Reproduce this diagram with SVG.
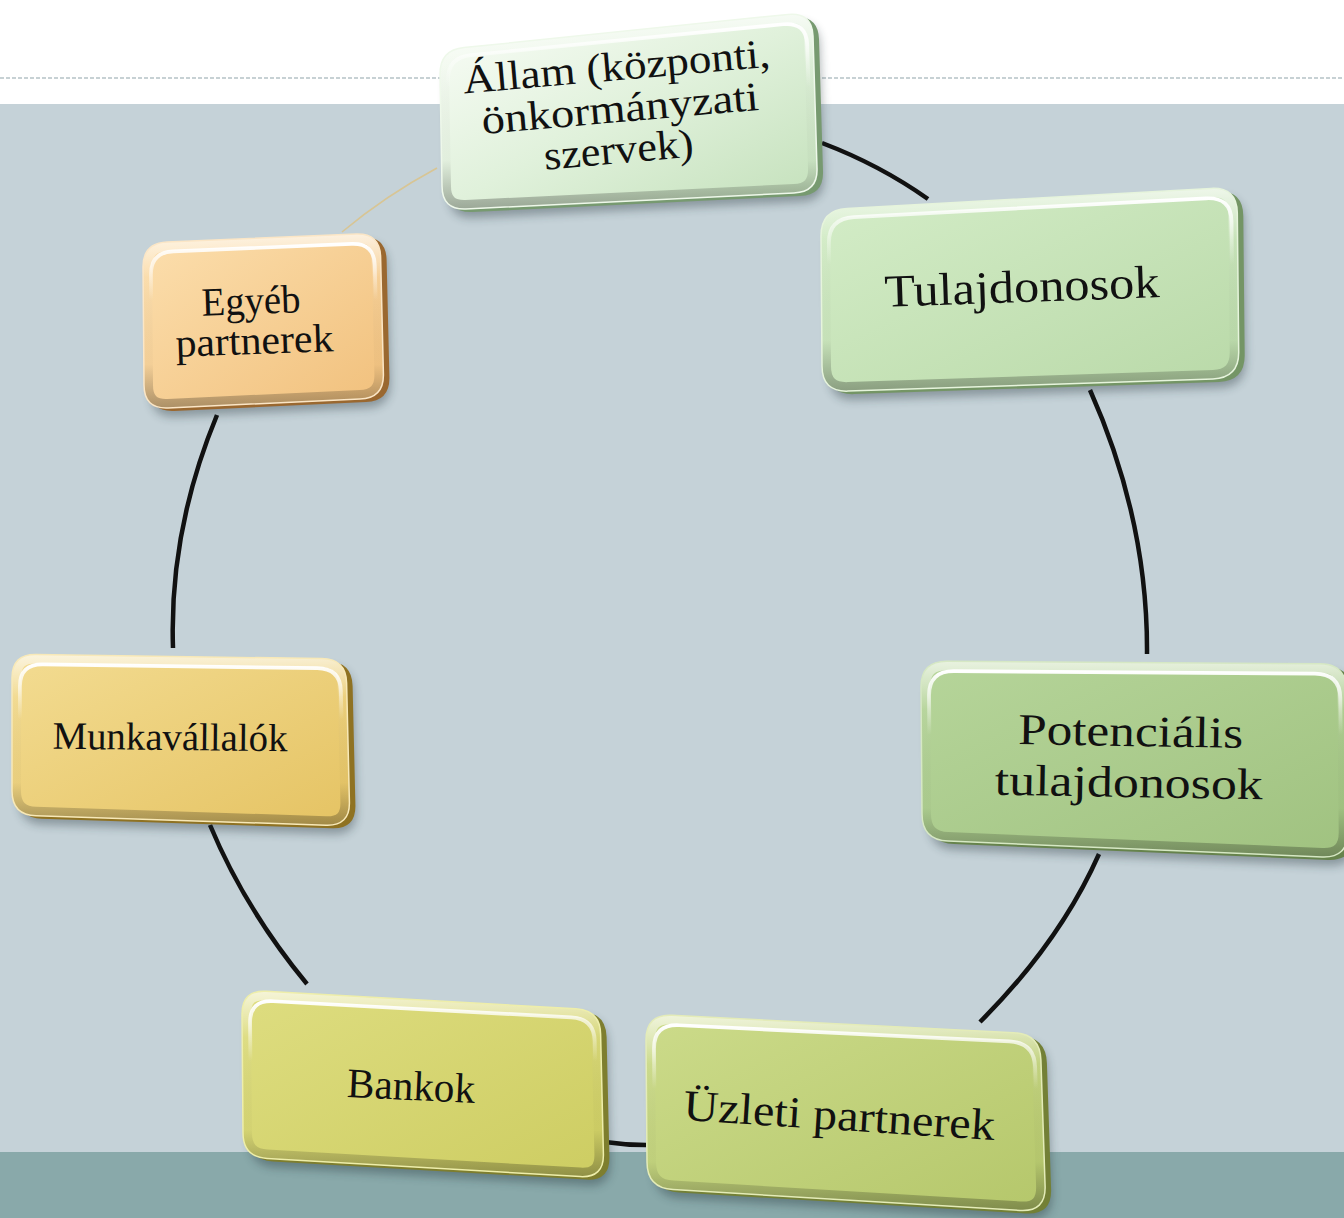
<svg xmlns="http://www.w3.org/2000/svg" xmlns:xlink="http://www.w3.org/1999/xlink" width="1344" height="1218" viewBox="0 0 1344 1218">
<style>
.lbl{font-family:"Liberation Serif","DejaVu Serif",serif;fill:#111;text-anchor:middle}
.conn{fill:none;stroke:#111;stroke-width:4.5}
.shadow{fill:#1a2a30;opacity:0.35;filter:url(#blur)}
.rim{fill:none;stroke-width:1.5}
.bev{fill:none;stroke:url(#bevel);stroke-width:18}
.gloss{fill:none;stroke:url(#gloss);stroke-width:4}
</style>
<defs>
<filter id="blur" x="-10%" y="-10%" width="120%" height="130%"><feGaussianBlur stdDeviation="5"/></filter>
<linearGradient id="bevel" x1="0" y1="0" x2="0" y2="1">
<stop offset="0" stop-color="#fff" stop-opacity="0.7"/>
<stop offset="0.1" stop-color="#fff" stop-opacity="0.45"/>
<stop offset="0.25" stop-color="#fff" stop-opacity="0.06"/>
<stop offset="0.75" stop-color="#000" stop-opacity="0.02"/>
<stop offset="1" stop-color="#000" stop-opacity="0.3"/>
</linearGradient>
<linearGradient id="gloss" x1="0" y1="0" x2="0" y2="1">
<stop offset="0" stop-color="#fff" stop-opacity="1"/>
<stop offset="0.15" stop-color="#fff" stop-opacity="0.6"/>
<stop offset="0.35" stop-color="#fff" stop-opacity="0"/>
<stop offset="1" stop-color="#fff" stop-opacity="0"/>
</linearGradient>
<linearGradient id="g1" x1="0" y1="0" x2="1" y2="1"><stop offset="0" stop-color="#fafdf8"/><stop offset="0.5" stop-color="#e0f1db"/><stop offset="1" stop-color="#c3e0ba"/></linearGradient>
<linearGradient id="g2" x1="0" y1="0" x2="1" y2="1"><stop offset="0" stop-color="#d4edc8"/><stop offset="1" stop-color="#b9d9a8"/></linearGradient>
<linearGradient id="g3" x1="0" y1="0" x2="1" y2="1"><stop offset="0" stop-color="#b6d59a"/><stop offset="1" stop-color="#a0c280"/></linearGradient>
<linearGradient id="g4" x1="0" y1="0" x2="1" y2="1"><stop offset="0" stop-color="#ccdb8a"/><stop offset="1" stop-color="#b5c76b"/></linearGradient>
<linearGradient id="g5" x1="0" y1="0" x2="1" y2="1"><stop offset="0" stop-color="#dedd80"/><stop offset="1" stop-color="#cdcd62"/></linearGradient>
<linearGradient id="g6" x1="0" y1="0" x2="1" y2="1"><stop offset="0" stop-color="#f3dc92"/><stop offset="1" stop-color="#e5c363"/></linearGradient>
<linearGradient id="g7" x1="0" y1="0" x2="1" y2="1"><stop offset="0" stop-color="#fcdfae"/><stop offset="1" stop-color="#f1c07c"/></linearGradient>
<path id="p1" d="M464,47.6 L788,14.4 Q812,12 813,36 L817,168 Q818,192 794,193 L466,209 Q442,210 442,186 L440,74 Q440,50 464,47.6 Z"/>
<path id="p2" d="M847,208.6 L1211,188.4 Q1237,187 1237.3,213 L1238.7,352 Q1239,378 1213,378.9 L848,391.1 Q822,392 822,366 L821,236 Q821,210 847,208.6 Z"/>
<path id="p3" d="M947,661.2 L1320,663.8 Q1346,664 1346.3,690 L1347.7,832 Q1348,858 1322,856.9 L948,841.1 Q922,840 922,814 L921,687 Q921,661 947,661.2 Z"/>
<path id="p4" d="M672,1015.3 L1014,1032.7 Q1040,1034 1040.9,1060 L1045.1,1186 Q1046,1212 1020,1210.4 L673,1189.6 Q647,1188 647,1162 L646,1040 Q646,1014 672,1015.3 Z"/>
<path id="p5" d="M266,991.3 L576,1008.7 Q600,1010 600.6,1034 L603.4,1154 Q604,1178 580,1176.6 L267,1158.4 Q243,1157 243,1133 L242,1014 Q242,990 266,991.3 Z"/>
<path id="p6" d="M36,654.4 L322,658.6 Q346,659 346.6,683 L349.4,802 Q350,826 326,825.2 L36,815.8 Q12,815 12,791 L12,678 Q12,654 36,654.4 Z"/>
<path id="p7" d="M167,242 L356,234 Q380,233 380.6,257 L383.4,374 Q384,398 360,399.1 L168,407.9 Q144,409 144,385 L143,267 Q143,243 167,242 Z"/>
<clipPath id="c1"><use xlink:href="#p1"/></clipPath>
<clipPath id="c2"><use xlink:href="#p2"/></clipPath>
<clipPath id="c3"><use xlink:href="#p3"/></clipPath>
<clipPath id="c4"><use xlink:href="#p4"/></clipPath>
<clipPath id="c5"><use xlink:href="#p5"/></clipPath>
<clipPath id="c6"><use xlink:href="#p6"/></clipPath>
<clipPath id="c7"><use xlink:href="#p7"/></clipPath>
</defs>

<g id="background">
<rect x="0" y="0" width="1344" height="1218" fill="#ffffff"/>
<rect x="0" y="104" width="1344" height="1048" fill="#c5d2d8"/>
<rect x="0" y="1152" width="1344" height="66" fill="#89a9aa"/>
<line x1="0" y1="78" x2="1344" y2="78" stroke="#8fa3aa" stroke-width="1.2" stroke-dasharray="4 2"/>
</g>

<g id="connectors">
<path class="conn" d="M822,143 Q880,165 928,199"/>
<path class="conn" d="M1090,390 Q1148,520 1147,654"/>
<path class="conn" d="M1099,854 Q1060,942 980,1022"/>
<path class="conn" d="M605,1142 Q625,1145 646,1145"/>
<path class="conn" d="M307,984 Q245,909 210,825"/>
<path class="conn" d="M173,648 Q169,531 217,415"/>
<path d="M342,232 Q385,196 437,168" fill="none" stroke="#d8c594" stroke-width="1.6"/>
</g>

<g id="node-egyeb">
<use xlink:href="#p7" class="shadow" transform="translate(7,9)"/>
<use xlink:href="#p7" transform="translate(6,3)" fill="#9a6830"/>
<use xlink:href="#p7" fill="url(#g7)"/>
<use xlink:href="#p7" class="bev" clip-path="url(#c7)"/>
<use xlink:href="#p7" class="gloss" transform="translate(1,3) scale(0.942 0.92)" transform-origin="263 321"/>
<use xlink:href="#p7" class="rim" stroke="#fbe6c6"/>
<g transform="rotate(-2 253 330)">
<text class="lbl" x="252" y="314" font-size="40" textLength="99" lengthAdjust="spacingAndGlyphs">Egyéb</text>
<text class="lbl" x="254" y="354" font-size="40" textLength="158" lengthAdjust="spacingAndGlyphs">partnerek</text>
</g>
</g>

<g id="node-munkavallalok">
<use xlink:href="#p6" class="shadow" transform="translate(7,9)"/>
<use xlink:href="#p6" transform="translate(6,3)" fill="#8f7222"/>
<use xlink:href="#p6" fill="url(#g6)"/>
<use xlink:href="#p6" class="bev" clip-path="url(#c6)"/>
<use xlink:href="#p6" class="gloss" transform="translate(1,3) scale(0.959 0.919)" transform-origin="181 740"/>
<use xlink:href="#p6" class="rim" stroke="#f8e9b8"/>
<text class="lbl" x="170" y="750" font-size="39" textLength="235" lengthAdjust="spacingAndGlyphs" transform="rotate(0.6 170 740)">Munkavállalók</text>
</g>

<g id="node-bankok">
<use xlink:href="#p5" class="shadow" transform="translate(7,9)"/>
<use xlink:href="#p5" transform="translate(6,3)" fill="#7e7e2e"/>
<use xlink:href="#p5" fill="url(#g5)"/>
<use xlink:href="#p5" class="bev" clip-path="url(#c5)"/>
<use xlink:href="#p5" class="gloss" transform="translate(1,3) scale(0.961 0.925)" transform-origin="423 1084"/>
<use xlink:href="#p5" class="rim" stroke="#eeeeaa"/>
<text class="lbl" x="411" y="1100" font-size="42" textLength="128" lengthAdjust="spacingAndGlyphs" transform="rotate(2.7 411 1090)">Bankok</text>
</g>

<g id="node-uzleti">
<use xlink:href="#p4" class="shadow" transform="translate(7,9)"/>
<use xlink:href="#p4" transform="translate(6,3)" fill="#738036"/>
<use xlink:href="#p4" fill="url(#g4)"/>
<use xlink:href="#p4" class="bev" clip-path="url(#c4)"/>
<use xlink:href="#p4" class="gloss" transform="translate(1,3) scale(0.965 0.929)" transform-origin="846 1113"/>
<use xlink:href="#p4" class="rim" stroke="#e4ecb8"/>
<text class="lbl" x="839" y="1130" font-size="44" textLength="312" lengthAdjust="spacingAndGlyphs" transform="rotate(3.7 839 1120)">Üzleti partnerek</text>
</g>

<g id="node-potencialis">
<use xlink:href="#p3" class="shadow" transform="translate(7,9)"/>
<use xlink:href="#p3" transform="translate(6,3)" fill="#66834c"/>
<use xlink:href="#p3" fill="url(#g3)"/>
<use xlink:href="#p3" class="bev" clip-path="url(#c3)"/>
<use xlink:href="#p3" class="gloss" transform="translate(1,3) scale(0.967 0.929)" transform-origin="1134 760"/>
<use xlink:href="#p3" class="rim" stroke="#d6e8c4"/>
<g transform="rotate(1 1130 772)">
<text class="lbl" x="1130" y="746" font-size="44" textLength="225" lengthAdjust="spacingAndGlyphs">Potenciális</text>
<text class="lbl" x="1129" y="797" font-size="44" textLength="268" lengthAdjust="spacingAndGlyphs">tulajdonosok</text>
</g>
</g>

<g id="node-tulajdonosok">
<use xlink:href="#p2" class="shadow" transform="translate(7,9)"/>
<use xlink:href="#p2" transform="translate(6,3)" fill="#749565"/>
<use xlink:href="#p2" fill="url(#g2)"/>
<use xlink:href="#p2" class="bev" clip-path="url(#c2)"/>
<use xlink:href="#p2" class="gloss" transform="translate(1,3) scale(0.967 0.932)" transform-origin="1030 290"/>
<use xlink:href="#p2" class="rim" stroke="#e6f4dc"/>
<text class="lbl" x="1022" y="302" font-size="46" textLength="275" lengthAdjust="spacingAndGlyphs" transform="rotate(-2 1022 290)">Tulajdonosok</text>
</g>

<g id="node-allam">
<use xlink:href="#p1" class="shadow" transform="translate(7,9)"/>
<use xlink:href="#p1" transform="translate(6,3)" fill="#779a70"/>
<use xlink:href="#p1" fill="url(#g1)"/>
<use xlink:href="#p1" class="bev" clip-path="url(#c1)"/>
<use xlink:href="#p1" class="gloss" transform="translate(1,3) scale(0.963 0.929)" transform-origin="629 111"/>
<use xlink:href="#p1" class="rim" stroke="#eef8ea"/>
<g transform="rotate(-5 620 120)">
<text class="lbl" x="621" y="80" font-size="41" textLength="308" lengthAdjust="spacingAndGlyphs">Állam (központi,</text>
<text class="lbl" x="621" y="122" font-size="41" textLength="278" lengthAdjust="spacingAndGlyphs">önkormányzati</text>
<text class="lbl" x="616" y="163" font-size="41" textLength="150" lengthAdjust="spacingAndGlyphs">szervek)</text>
</g>
</g>
</svg>
